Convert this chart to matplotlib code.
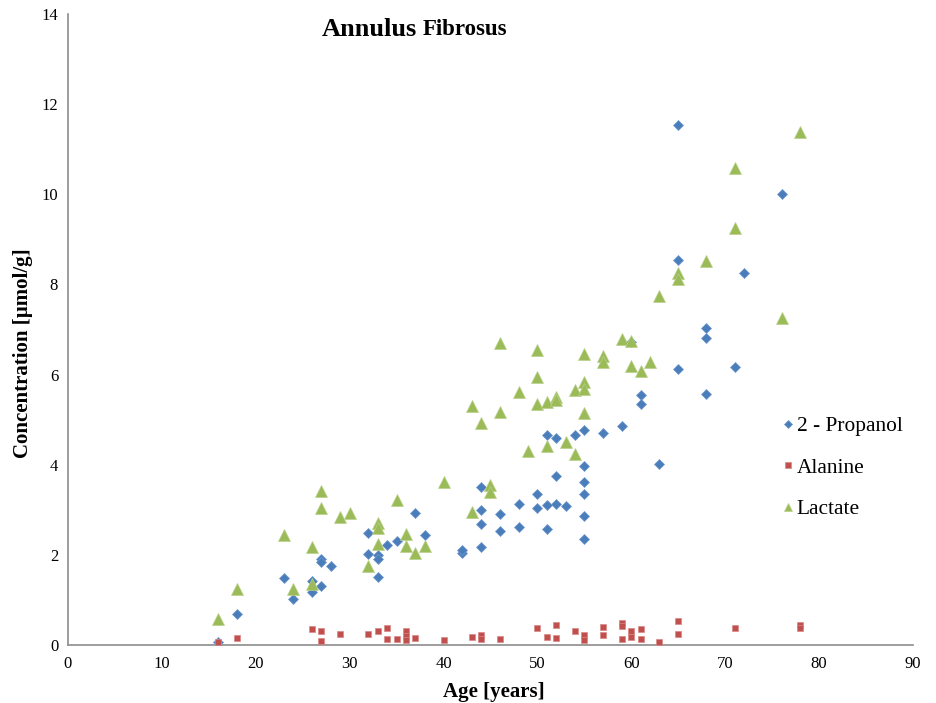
import numpy as np
import matplotlib
matplotlib.use("Agg")
import matplotlib.pyplot as plt

plt.rcParams['font.family'] = ['Liberation Serif', 'DejaVu Serif']

# 2 - Propanol
prop_age = [16, 18, 23, 24, 26, 26, 27, 27, 27, 28, 32, 32, 33, 33, 33, 34, 35, 37, 38,
            42, 42, 44, 44, 44, 44, 46, 46, 48, 48, 50, 50, 51, 51, 51, 52, 52, 52, 53,
            54, 55, 55, 55, 55, 55, 55, 57, 59, 60, 61, 61, 63, 65, 65, 65, 68, 68, 68,
            71, 72, 76]
prop_conc = [0.07, 0.68, 1.49, 1.01, 1.41, 1.18, 1.9, 1.84, 1.32, 1.75, 2.49, 2.02, 2.0, 1.9, 1.51,
             2.23, 2.3, 2.94, 2.43, 2.05, 2.1, 3.51, 2.99, 2.68, 2.17, 2.9, 2.52, 3.13, 2.62,
             3.36, 3.03, 4.65, 3.11, 2.57, 4.6, 3.76, 3.13, 3.09, 4.66, 4.77, 3.97, 3.61, 3.34,
             2.86, 2.36, 4.7, 4.85, 6.72, 5.55, 5.35, 4.02, 11.53, 8.54, 6.13, 7.04, 6.82, 5.58,
             6.16, 8.25, 10.0]

# Alanine
ala_age = [16, 18, 26, 27, 27, 29, 32, 33, 34, 34, 35, 36, 36, 36, 37, 40, 43, 44, 44, 46,
           50, 51, 52, 52, 54, 55, 55, 57, 57, 59, 59, 59, 60, 60, 61, 61, 63, 65, 65, 71,
           78, 78]
ala_conc = [0.07, 0.16, 0.35, 0.3, 0.09, 0.25, 0.25, 0.31, 0.37, 0.13, 0.13, 0.3, 0.2, 0.11,
            0.15, 0.1, 0.18, 0.23, 0.14, 0.13, 0.38, 0.18, 0.44, 0.15, 0.3, 0.22, 0.12, 0.41,
            0.22, 0.49, 0.42, 0.13, 0.3, 0.18, 0.35, 0.14, 0.07, 0.53, 0.25, 0.38, 0.45, 0.38]

# Lactate
lac_age = [16, 18, 23, 24, 26, 26, 27, 27, 29, 30, 32, 33, 33, 33, 35, 36, 36, 37, 38, 40,
           43, 43, 44, 45, 45, 46, 46, 48, 49, 50, 50, 50, 51, 51, 52, 52, 53, 54, 54, 55,
           55, 55, 55, 57, 57, 59, 60, 60, 61, 62, 63, 65, 65, 68, 71, 71, 76, 78]
lac_conc = [0.57, 1.24, 2.43, 1.24, 2.17, 1.35, 3.41, 3.04, 2.84, 2.93, 1.76, 2.7, 2.6, 2.24,
            3.22, 2.47, 2.2, 2.04, 2.2, 3.62, 5.3, 2.96, 4.93, 3.56, 3.39, 6.71, 5.16, 5.62,
            4.3, 6.55, 5.94, 5.34, 5.39, 4.41, 5.5, 5.44, 4.5, 5.66, 4.23, 6.46, 5.84, 5.67,
            5.14, 6.41, 6.29, 6.78, 6.74, 6.18, 6.07, 6.29, 7.75, 8.25, 8.12, 8.53, 10.59,
            9.26, 7.26, 11.39]

fig = plt.figure(figsize=(9.36, 7.03), dpi=100)
ax = fig.add_axes([0.0726, 0.0825, 0.9028, 0.8975])

ax.plot(prop_age, prop_conc, 'D', ms=5.5, color='#4A7EBB', mec='#6F98CC', mew=0.5,
        label='2 - Propanol', zorder=3)
ax.plot(ala_age, ala_conc, 's', ms=5, color='#C0504D', mec='#D98886', mew=0.5,
        label='Alanine', zorder=3)
ax.plot(lac_age, lac_conc, '^', ms=8, color='#9BBB59', mec='#B8D08A', mew=0.5,
        label='Lactate', zorder=3)

ax.set_xlim(0, 90)
ax.set_ylim(0, 14)
ax.set_xticks(np.arange(0, 91, 10))
ax.set_yticks(np.arange(0, 15, 2))
ax.tick_params(length=0, labelsize=12)
ax.tick_params(axis='x', pad=8)
ax.tick_params(axis='y', pad=7)
for s in ['top', 'right']:
    ax.spines[s].set_visible(False)
for s in ['left', 'bottom']:
    ax.spines[s].set_color('#8C8C8C')
    ax.spines[s].set_linewidth(1.2)

ax.set_xlabel('Age [years]', fontsize=15, fontweight='bold', labelpad=7, x=0.504)
ax.set_ylabel('Concentration [µmol/g]', fontsize=15, fontweight='bold', labelpad=6, y=0.463)

fig.text(0.344, 0.958, 'Annulus', fontsize=19, fontweight='bold', ha='left', va='center')
fig.text(0.452, 0.958, 'Fibrosus', fontsize=16.5, fontweight='bold', ha='left', va='center')

ax.legend(loc='upper left', bbox_to_anchor=(0.814, 0.435), bbox_transform=fig.transFigure,
          frameon=False, fontsize=15.4, markerscale=0.8, handletextpad=0.13,
          handlelength=0.6, labelspacing=1.0)

fig.savefig('out.png', dpi=100)
